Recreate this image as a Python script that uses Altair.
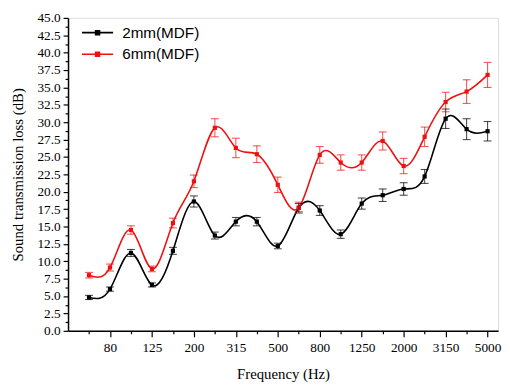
import altair as alt
import pandas as pd

freqs = ["63", "80", "100", "125", "160", "200", "250", "315", "400", "500",
         "630", "800", "1000", "1250", "1600", "2000", "2500", "3150", "4000", "5000"]
series_names = ["2mm(MDF)", "6mm(MDF)"]
mdf2 = [4.8, 6.0, 11.2, 6.6, 11.5, 18.6, 13.7, 15.7, 15.7, 12.2,
        17.7, 17.3, 13.9, 18.3, 19.5, 20.4, 22.2, 30.5, 29.0, 28.7]
mdf2_err = [0.3, 0.3, 0.5, 0.3, 0.5, 0.8, 0.5, 0.6, 0.6, 0.4,
            0.6, 0.7, 0.6, 0.8, 0.9, 0.9, 1.0, 1.4, 1.5, 1.4]
mdf6 = [8.0, 9.1, 14.5, 8.9, 15.5, 21.5, 29.2, 26.3, 25.4, 21.0,
        17.7, 25.3, 24.2, 24.2, 27.3, 23.7, 27.9, 32.9, 34.4, 36.8]
mdf6_err = [0.4, 0.5, 0.6, 0.4, 0.7, 0.9, 1.3, 1.4, 1.2, 1.1,
            0.8, 1.2, 1.1, 1.1, 1.3, 1.1, 1.4, 1.4, 1.7, 1.8]

rows = []
for name, vals, errs in [(series_names[0], mdf2, mdf2_err), (series_names[1], mdf6, mdf6_err)]:
    for i, (f, v, e) in enumerate(zip(freqs, vals, errs)):
        rows.append({"series": name, "idx": i, "freq": f, "value": v,
                     "lo": v - e, "hi": v + e})
df = pd.DataFrame(rows)

label_expr = "[" + ",".join("'%s'" % f for f in freqs) + "][datum.value]"
major_x = list(range(1, 20, 2))
minor_x = list(range(0, 20, 2))
major_y = [i * 2.5 for i in range(19)]
minor_y = [1.25 + i * 2.5 for i in range(18)]

xscale = alt.Scale(domain=[-1, 19.5], nice=False, zero=False)
yscale = alt.Scale(domain=[0, 45], nice=False)
palette = ["#000000", "#ee1111"]

serif = "Liberation Serif"

base = alt.Chart(df)


def col(legend=None):
    return alt.Color("series:N", scale=alt.Scale(domain=series_names, range=palette),
                     legend=legend)


lines = base.mark_line(interpolate="natural", strokeWidth=1.6).encode(
    x=alt.X("idx:Q", scale=xscale,
            axis=alt.Axis(values=major_x, labelExpr=label_expr, title="Frequency (Hz)",
                          grid=False, tickSize=6, labelPadding=4, labelFont=serif,
                          labelFontSize=13.5, titleFont=serif, titleFontSize=15,
                          titleFontWeight="normal", titlePadding=13, domainColor="black",
                          domainWidth=1.5, tickColor="black", tickWidth=1.2,
                          labelColor="black", titleColor="black", labelFlush=False,
                          orient="bottom")),
    y=alt.Y("value:Q", scale=yscale,
            axis=alt.Axis(values=major_y, format=".1f", title="Sound transmission loss (dB)",
                          grid=False, tickSize=5, labelPadding=3, labelFont=serif,
                          labelFontSize=13.5, titleFont=serif, titleFontSize=15,
                          titleFontWeight="normal", titlePadding=12, domainColor="black",
                          domainWidth=1.5, tickColor="black", tickWidth=1.2,
                          labelColor="black", titleColor="black", labelFlush=False,
                          orient="left")),
    color=col(alt.Legend(orient="none", legendX=21, legendY=6, title=None,
                         symbolType="M-2,0H2M-0.25,-0.25H0.25V0.25H-0.25Z",
                         symbolSize=250, symbolStrokeWidth=1.6,
                         labelFont="Liberation Sans", labelFontSize=15.5,
                         labelColor="black", rowPadding=4, labelOffset=16)),
)

points = base.mark_point(shape="square", filled=True, size=18, opacity=1).encode(
    x=alt.X("idx:Q", scale=xscale,
            axis=alt.Axis(values=minor_x, labels=False, title=None, grid=False, domain=False,
                          tickSize=3, tickColor="black", tickWidth=1.2, orient="bottom")),
    y=alt.Y("value:Q", scale=yscale,
            axis=alt.Axis(values=minor_y, labels=False, title=None, grid=False, domain=False,
                          tickSize=3, tickColor="black", tickWidth=1.2, orient="left")),
    color=col(),
)

err = base.mark_rule(strokeWidth=1.1, opacity=0.7).encode(
    x=alt.X("idx:Q", scale=xscale, axis=None),
    y=alt.Y("lo:Q", scale=yscale, axis=None),
    y2="hi:Q",
    color=col(),
)
cap_lo = base.mark_tick(orient="horizontal", thickness=1.1, size=8, opacity=0.7).encode(
    x=alt.X("idx:Q", scale=xscale, axis=None),
    y=alt.Y("lo:Q", scale=yscale, axis=None),
    color=col(),
)
cap_hi = base.mark_tick(orient="horizontal", thickness=1.1, size=8, opacity=0.7).encode(
    x=alt.X("idx:Q", scale=xscale, axis=None),
    y=alt.Y("hi:Q", scale=yscale, axis=None),
    color=col(),
)

chart = alt.layer(lines, points, err, cap_lo, cap_hi).resolve_axis(
    x="independent", y="independent"
).properties(
    width=437, height=318,
    autosize=alt.AutoSizeParams(type="none"),
    padding={"left": 61, "top": 7, "right": 4, "bottom": 52},
).configure_view(stroke="black", strokeWidth=1.5).configure(background="white")

chart.save("out.html", embed_options={"renderer": "svg", "actions": False})
